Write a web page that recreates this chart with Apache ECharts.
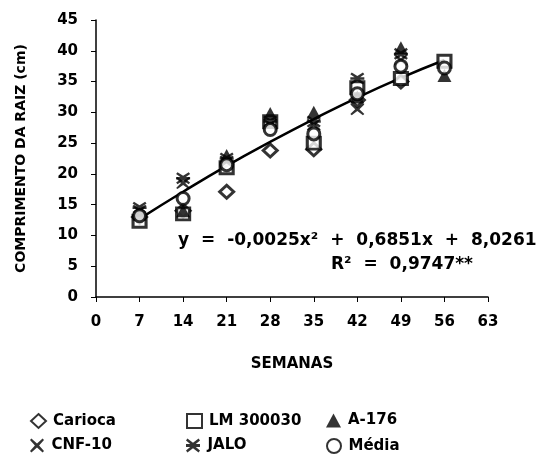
<!DOCTYPE html>
<html>
<head>
<meta charset="utf-8">
<script src="https://cdn.jsdelivr.net/npm/echarts@6/dist/echarts.min.js"></script>
<style>html,body{margin:0;padding:0;background:#fff}#c{width:539px;height:462px}</style>
</head>
<body>
<div id="c"></div>
<script>
var weeks = [7, 14, 21, 28, 35, 42, 49, 56];
var xTicks = [0, 7, 14, 21, 28, 35, 42, 49, 56, 63];
var carioca = [13.0, 14.0, 17.1, 23.8, 24.0, 32.0, 35.0, null];
var lm300030 = [12.3, 13.5, 21.0, 28.5, 25.0, 34.0, 35.5, 38.3];
var a176 = [13.5, 14.0, 23.0, 29.8, 30.0, 32.5, 40.5, 36.0];
var cnf10 = [14.0, 18.5, 22.0, 28.0, 28.0, 30.5, 38.5, null];
var jalo = [14.5, 19.3, 22.5, 28.5, 28.5, 35.5, 39.5, null];
var media = [13.2, 16.0, 21.5, 27.2, 26.5, 33.0, 37.5, 37.2];
var trend = [12.7, 17.1, 21.3, 25.2, 28.9, 32.4, 35.6, 38.5];
var eqTokens = ['y', '=', '-0,0025x²', '+', '0,6851x', '+', '8,0261'];
var r2Tokens = ['R²', '=', '0,9747**'];

function pairs(arr){ var out=[]; for(var i=0;i<weeks.length;i++){ if(arr[i]!==null) out.push([weeks[i],arr[i]]);} return out; }
function richJoin(tokens){ return tokens.map(function(t){return '{t|'+t+'}';}).join(' '); }

var X_PATH = 'path://M2,0 L10,7 L18,0 L20,2 L13,10 L20,18 L18,20 L10,13 L2,20 L0,18 L7,10 L0,2 Z';
var STAR_PATH = 'path://M2,0 L10,6 L18,0 L20,3 L14,8 L20,8 L20,12 L14,12 L20,17 L18,20 L10,14 L2,20 L0,17 L6,12 L0,12 L0,8 L6,8 L0,3 Z';

var hollow = {color:'#fff', borderColor:'#000', borderWidth:3};
var filled = {color:'#000'};
var font = 'DejaVu Sans';

function leg(name, left, top){
  return {left:left, top:top, orient:'horizontal', itemWidth:15, itemHeight:14, padding:0,
    textStyle:{color:'#000', fontSize:15, fontWeight:'bold', fontFamily:font, padding:[0,0,0,2]}, data:[name]};
}
var richT = {t:{fontFamily:font, fontWeight:'bold', fontSize:17, color:'#000', padding:[0,3]}};

var chart = echarts.init(document.getElementById('c'));
chart.setOption({
  animation:false,
  backgroundColor:'#fff',
  textStyle:{fontFamily:font},
  grid:{left:96, right:51, top:20, bottom:165, containLabel:false},
  xAxis:{type:'value', min:0, max:63, interval:7,
    axisLine:{lineStyle:{color:'#000', width:1.5}},
    axisTick:{show:true, length:5, lineStyle:{color:'#000'}},
    splitLine:{show:false},
    axisLabel:{color:'#000', fontSize:15, fontWeight:'bold', margin:18, fontFamily:font,
      formatter:function(v){return xTicks.indexOf(v)>=0? String(v):'';}},
    name:'SEMANAS', nameLocation:'middle', nameGap:60,
    nameTextStyle:{color:'#000', fontSize:15, fontWeight:'bold', fontFamily:font}},
  yAxis:{type:'value', min:0, max:45, interval:5,
    axisLine:{show:true, lineStyle:{color:'#000', width:1.5}},
    axisTick:{show:true, length:5, lineStyle:{color:'#000'}},
    splitLine:{show:false},
    axisLabel:{color:'#000', fontSize:15, fontWeight:'bold', margin:18, fontFamily:font},
    name:'COMPRIMENTO DA RAIZ (cm)', nameLocation:'middle', nameGap:68, nameRotate:90,
    nameTextStyle:{color:'#000', fontSize:14, fontWeight:'bold', fontFamily:font}},
  legend:[
    leg('Carioca', 30, 413), leg('LM 300030', 186, 413), leg('A-176', 326, 413),
    leg('CNF-10', 30, 438), leg('JALO', 186, 438), leg('Média', 326, 438)
  ],
  graphic:[
    {type:'text', left:178, top:232, style:{text:richJoin(eqTokens), rich:richT, fill:'#000', font:'bold 17px "DejaVu Sans"'}},
    {type:'text', left:331, top:256, style:{text:richJoin(r2Tokens), rich:richT, fill:'#000', font:'bold 17px "DejaVu Sans"'}}
  ],
  series:[
    {name:'Tendência', type:'line', data:pairs(trend), smooth:true, showSymbol:false, symbol:'none',
     lineStyle:{color:'#000', width:2.5}, z:1, silent:true},
    {name:'Carioca', type:'scatter', data:pairs(carioca), symbol:'diamond', symbolSize:[14,13], itemStyle:hollow, z:3},
    {name:'LM 300030', type:'scatter', data:pairs(lm300030), symbol:'rect', symbolSize:[13,12], itemStyle:hollow, z:3},
    {name:'A-176', type:'scatter', data:pairs(a176), symbol:'triangle', symbolSize:[14,13], itemStyle:filled, z:3},
    {name:'CNF-10', type:'scatter', data:pairs(cnf10), symbol:X_PATH, symbolSize:[14,12], itemStyle:filled, z:3},
    {name:'JALO', type:'scatter', data:pairs(jalo), symbol:STAR_PATH, symbolSize:[14,12], itemStyle:filled, z:3},
    {name:'Média', type:'scatter', data:pairs(media), symbol:'circle', symbolSize:[12,12], itemStyle:hollow, z:4}
  ]
});
</script>
</body>
</html>
